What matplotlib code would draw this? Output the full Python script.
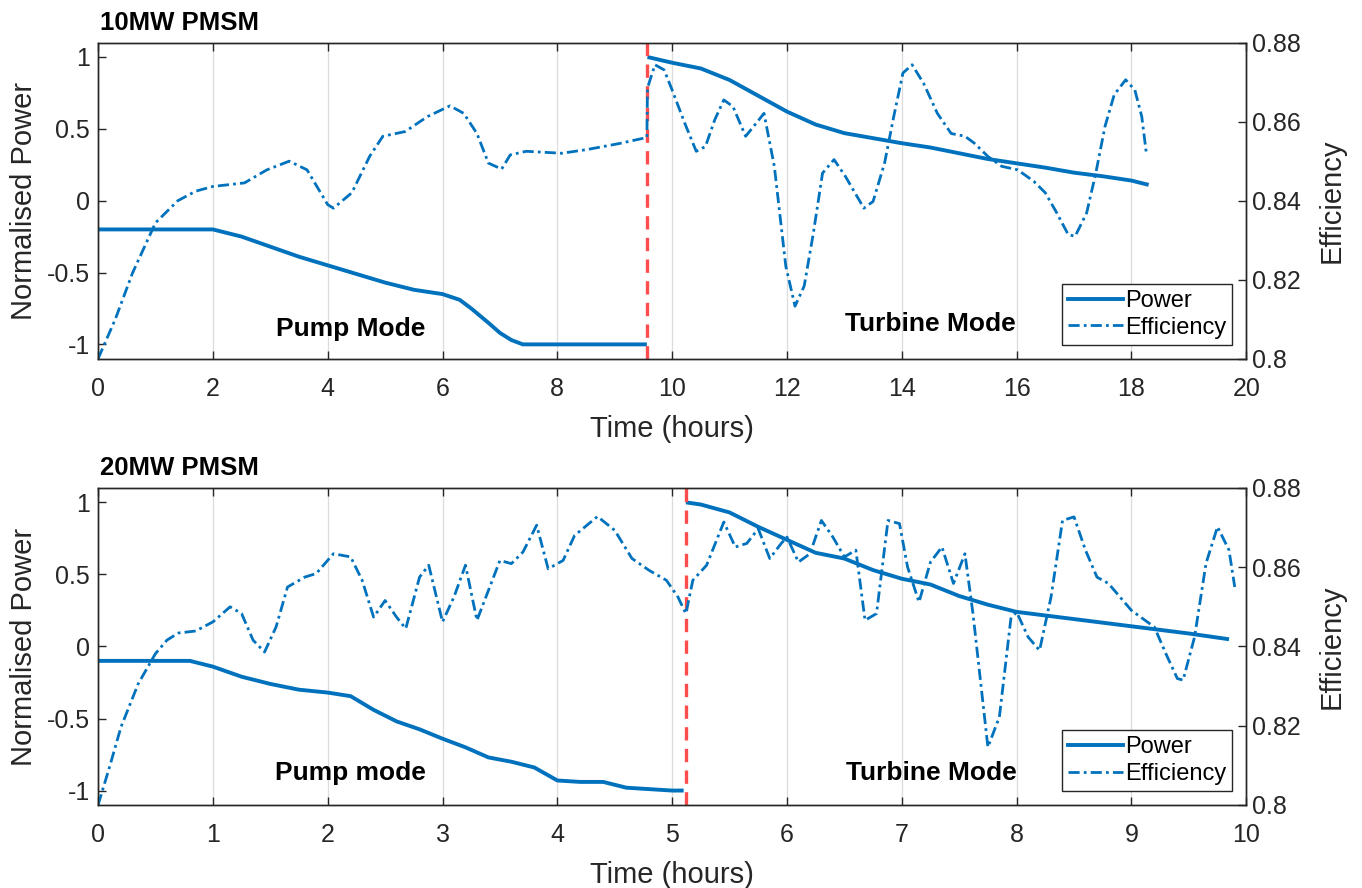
import matplotlib
matplotlib.use("Agg")
import matplotlib.pyplot as plt
from matplotlib.lines import Line2D

plt.rcParams['font.family'] = ['Liberation Sans', 'DejaVu Sans']
plt.rcParams['axes.unicode_minus'] = False

# ---------------- data: 10 MW PMSM ----------------
p10_pump_t = [0, 0.5, 1, 1.5, 2, 2.5, 3, 3.5, 4, 4.5, 5, 5.5, 6, 6.3, 6.5, 6.8, 7, 7.2, 7.4, 8, 9, 9.56]
p10_pump = [-0.2, -0.2, -0.2, -0.2, -0.2, -0.25, -0.32, -0.39, -0.45, -0.51, -0.57, -0.62, -0.65, -0.69, -0.75, -0.85, -0.92, -0.97, -1.0, -1.0, -1.0, -1.0]
p10_turb_t = [9.57, 10, 10.5, 11, 11.5, 12, 12.5, 13, 13.5, 14, 14.5, 15, 15.5, 16, 16.5, 17, 17.5, 18, 18.3]
p10_turb = [1.0, 0.96, 0.92, 0.84, 0.73, 0.62, 0.53, 0.47, 0.435, 0.40, 0.37, 0.33, 0.29, 0.26, 0.23, 0.195, 0.17, 0.14, 0.11]

e10_t = [0, 0.3, 0.6, 1.0, 1.39, 1.7, 2.0, 2.55, 2.94, 3.33, 3.64, 4.0, 4.1, 4.42, 4.73, 4.96, 5.35, 5.74,
         6.13, 6.37, 6.6, 6.8, 7.03, 7.18, 7.46, 8.08, 8.54, 9.09, 9.56,
         9.57, 9.7, 9.86, 10.0, 10.22, 10.42, 10.58, 10.74, 10.9, 11.06, 11.28, 11.42, 11.6, 11.78, 11.98,
         12.14, 12.3, 12.46, 12.62, 12.82, 13.02, 13.34, 13.5, 13.7, 13.86, 14.02, 14.18, 14.38, 14.62,
         14.86, 15.1, 15.26, 15.5, 15.74, 16.02, 16.3, 16.5, 16.7, 16.9, 17.02, 17.22, 17.38, 17.54, 17.7,
         17.9, 18.06, 18.18, 18.26]
e10 = [0.800, 0.810, 0.8217, 0.8344, 0.840, 0.8424, 0.8436, 0.8445, 0.8478, 0.850, 0.8478, 0.839, 0.8381,
       0.842, 0.8512, 0.8563, 0.8575, 0.8613, 0.864, 0.8621, 0.857, 0.8495, 0.848, 0.8516, 0.8525, 0.852,
       0.853, 0.8545, 0.856,
       0.8685, 0.8744, 0.8731, 0.868, 0.8596, 0.8525, 0.8537, 0.8604, 0.8655, 0.8638, 0.8563, 0.8588,
       0.8621, 0.8487, 0.8234, 0.8133, 0.8184, 0.8318, 0.847, 0.8504, 0.8461, 0.8381, 0.8398, 0.8495,
       0.8613, 0.8723, 0.8744, 0.8697, 0.8621, 0.857, 0.8563, 0.8546, 0.8512, 0.8487, 0.8478, 0.8449,
       0.842, 0.8369, 0.8314, 0.831, 0.8369, 0.847, 0.8588, 0.8668, 0.8706, 0.868, 0.8613, 0.852]
switch10 = 9.57

# ---------------- data: 20 MW PMSM ----------------
p20_pump_t = [0, 0.3, 0.6, 0.8, 1.0, 1.25, 1.5, 1.75, 2.0, 2.2, 2.4, 2.6, 2.8, 3.0, 3.2, 3.4, 3.6, 3.8, 4.0,
              4.2, 4.4, 4.6, 4.8, 5.0, 5.1]
p20_pump = [-0.1, -0.1, -0.1, -0.1, -0.14, -0.21, -0.26, -0.30, -0.32, -0.345, -0.44, -0.52, -0.575, -0.64,
            -0.70, -0.77, -0.80, -0.84, -0.93, -0.94, -0.94, -0.98, -0.99, -1.0, -1.0]
p20_turb_t = [5.12, 5.25, 5.5, 5.75, 6.0, 6.25, 6.5, 6.75, 7.0, 7.25, 7.5, 7.75, 8.0, 8.5, 9.0, 9.5, 9.85]
p20_turb = [1.0, 0.985, 0.93, 0.83, 0.74, 0.65, 0.61, 0.53, 0.47, 0.43, 0.35, 0.29, 0.24, 0.19, 0.14, 0.09, 0.05]

e20_t = [0, 0.1, 0.2, 0.35, 0.5, 0.6, 0.7, 0.85, 1.0, 1.15, 1.25, 1.35, 1.45, 1.55, 1.65, 1.8, 1.9, 2.05,
         2.2, 2.3, 2.4, 2.5, 2.6, 2.68, 2.8, 2.88, 3.0, 3.1, 3.2, 3.3, 3.5, 3.6, 3.7, 3.82, 3.92, 4.05, 4.15,
         4.35, 4.5, 4.65, 4.8, 4.95, 5.05, 5.12,
         5.18, 5.3, 5.45, 5.55, 5.65, 5.75, 5.85, 5.95, 6.0, 6.1, 6.2, 6.3, 6.4, 6.5, 6.6, 6.68, 6.78, 6.88,
         6.98, 7.05, 7.15, 7.25, 7.35, 7.45, 7.55, 7.62, 7.75, 7.85, 7.95, 8.0, 8.1, 8.2, 8.3, 8.4, 8.5, 8.6,
         8.7, 8.8, 9.0, 9.2, 9.3, 9.4, 9.45, 9.55, 9.65, 9.75, 9.85, 9.9]
e20 = [0.800, 0.8096, 0.8197, 0.8306, 0.8382, 0.8416, 0.8434, 0.8439, 0.8462, 0.850, 0.8483, 0.8416, 0.8386,
       0.8449, 0.855, 0.8575, 0.8584, 0.8634, 0.8626, 0.8567, 0.8474, 0.8516, 0.8474, 0.8445, 0.8575,
       0.8605, 0.8462, 0.8525, 0.8605, 0.8466, 0.8617, 0.8609, 0.8638, 0.8706, 0.8596, 0.8617, 0.868,
       0.8728, 0.8693, 0.8622, 0.8592, 0.8567, 0.8525, 0.8483,
       0.8567, 0.8605, 0.8714, 0.8651, 0.866, 0.8697, 0.8622, 0.866, 0.8676, 0.8613, 0.8634, 0.8718,
       0.8676, 0.8626, 0.8643, 0.8466, 0.8483, 0.8718, 0.871, 0.8601, 0.8512, 0.8613, 0.8651, 0.8559,
       0.8634, 0.8483, 0.8146, 0.8222, 0.847, 0.8487, 0.8424, 0.839, 0.8525, 0.8718, 0.8727, 0.8643,
       0.8575, 0.8559, 0.8491, 0.8449, 0.8382, 0.8319, 0.8315, 0.8424, 0.861, 0.8702, 0.8643, 0.855]
switch20 = 5.12

left_ticks = [-1, -0.5, 0, 0.5, 1]
left_labels = ['-1', '-0.5', '0', '0.5', '1']
right_ticks = [0.8, 0.82, 0.84, 0.86, 0.88]
right_labels = ['0.8', '0.82', '0.84', '0.86', '0.88']

BLUE = '#0072BD'
RED = '#FF4D4D'
AXC = '#262626'
TICK_FS = 18
LAB_FS = 21
EFF_LS = (0, (4, 1.5, 1, 1.5))

fig = plt.figure(figsize=(13.62, 8.88), dpi=100)


def panel(rect, title, pump_t, pump, turb_t, turb, e_t, e, switch, xmax, xticks,
          pump_txt, pump_pos, turb_pos):
    ax = fig.add_axes(rect)
    ax2 = ax.twinx()
    ax.plot(pump_t, pump, color=BLUE, lw=2.8, solid_capstyle='butt')
    ax.plot(turb_t, turb, color=BLUE, lw=2.8, solid_capstyle='butt')
    ax2.plot(e_t, e, color=BLUE, lw=2.0, linestyle=EFF_LS)
    ax.axvline(switch, color=RED, lw=2.4, linestyle=(0, (4, 2.5)))
    ax.set_xlim(0, xmax)
    ax.set_ylim(-1.1, 1.1)
    ax2.set_ylim(0.8, 0.88)
    ax.set_xticks(xticks)
    ax.set_xticklabels([str(v) for v in xticks])
    ax.set_yticks(left_ticks)
    ax.set_yticklabels(left_labels)
    ax2.set_yticks(right_ticks)
    ax2.set_yticklabels(right_labels)
    ax.grid(axis='x', color='#dcdcdc', lw=0.9)
    ax.set_axisbelow(True)
    for a in (ax, ax2):
        for s in a.spines.values():
            s.set_color(AXC)
            s.set_linewidth(1.0)
        a.tick_params(direction='in', colors=AXC, labelsize=TICK_FS, length=6, width=1.0,
                      top=True, labelcolor=AXC)
    ax.tick_params(axis='x', pad=13)
    ax.tick_params(axis='y', pad=6)
    ax2.tick_params(axis='y', pad=4)
    ax.set_xlabel('Time (hours)', fontsize=LAB_FS, color=AXC, labelpad=10)
    ax.set_ylabel('Normalised Power', fontsize=LAB_FS, color=AXC, labelpad=6)
    ax2.set_ylabel('Efficiency', fontsize=LAB_FS, color=AXC, labelpad=12)
    ax.set_title(title, loc='left', fontsize=18.5, fontweight='bold', pad=9, x=0.002)
    ax.text(pump_pos[0], pump_pos[1], pump_txt, fontsize=19, fontweight='bold',
            ha='center', va='center')
    ax.text(turb_pos[0], turb_pos[1], 'Turbine Mode', fontsize=19, fontweight='bold',
            ha='center', va='center')
    handles = [Line2D([], [], color=BLUE, lw=2.8),
               Line2D([], [], color=BLUE, lw=2.0, linestyle=EFF_LS)]
    leg = ax2.legend(handles, ['Power', 'Efficiency'], loc='lower right', fontsize=17,
                     fancybox=False, edgecolor=AXC, framealpha=1, handlelength=2.3,
                     handletextpad=0.1, borderpad=0.25, labelspacing=0.2,
                     borderaxespad=0.6)
    leg.get_frame().set_linewidth(1.0)
    return ax, ax2


panel([0.072, 0.596, 0.843, 0.356], '10MW PMSM', p10_pump_t, p10_pump, p10_turb_t, p10_turb,
      e10_t, e10, switch10, 20, list(range(0, 21, 2)), 'Pump Mode', (4.4, -0.89), (14.5, -0.86))
panel([0.072, 0.0935, 0.843, 0.357], '20MW PMSM', p20_pump_t, p20_pump, p20_turb_t, p20_turb,
      e20_t, e20, switch20, 10, list(range(0, 11)), 'Pump mode', (2.2, -0.88), (7.26, -0.88))

fig.savefig('out.png', dpi=100)
